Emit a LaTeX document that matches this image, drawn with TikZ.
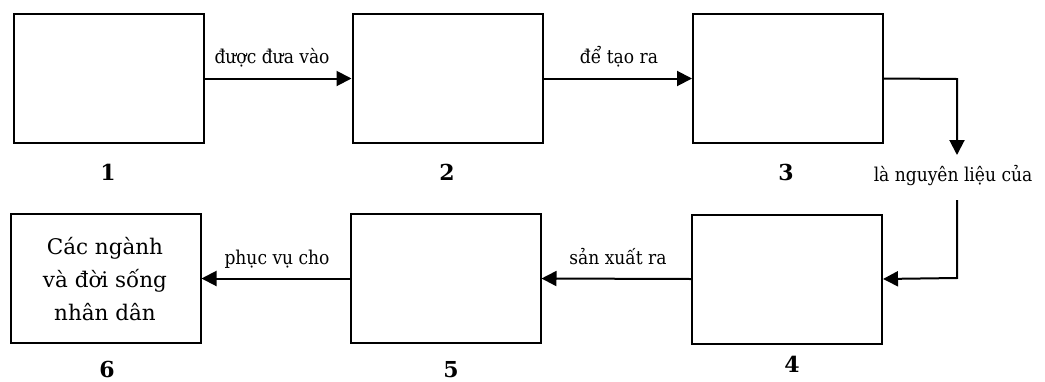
\documentclass[tikz,border=0pt]{standalone}
\usepackage{fontspec}
\setmainfont{DejaVu Serif}
\newfontfamily\condserif{DejaVu Serif Condensed}
\usetikzlibrary{arrows.meta}
\begin{document}
\begin{tikzpicture}[x=1pt,y=-1pt,
  box/.style={draw,line width=2pt,minimum width=190pt,minimum height=129pt,inner sep=0pt},
  num/.style={font=\fontsize{22}{24}\selectfont\bfseries,inner sep=0pt,anchor=base},
  lab/.style={font=\condserif\fontsize{19}{21}\selectfont,inner sep=0pt,anchor=base},
  link/.style={line width=2pt},
  arr/.style={link,-{Triangle[length=15pt,width=15pt]}}]
\useasboundingbox (0,0) rectangle (1045,381);
% top row
\node[box] (b1) at (108.5,78.5) {};
\node[box] (b2) at (447.5,78.5) {};
\node[box] (b3) at (788,78.5) {};
% bottom row
\node[box] (b6) at (105.5,278.5) {};
\node[box] (b5) at (445.5,278.5) {};
\node[box] (b4) at (787,279) {};
\node[align=center,font=\fontsize{21.5}{33}\selectfont,inner sep=0pt] (t6) at (105,279) {Các ngành\\và đời sống\\nhân dân};
% numbers
\node[num] (n1) at (108,180) {1};
\node[num] (n2) at (447,180) {2};
\node[num] (n3) at (786,180) {3};
\node[num] (n4) at (792,372) {4};
\node[num] (n5) at (451,377) {5};
\node[num] (n6) at (107,377) {6};
% connectors
\draw[arr] (b1.east) -- (b2.west);
\node[lab] (l1) at (272,63) {được đưa vào};
\draw[arr] (b2.east) -- (b3.west);
\node[lab] (l2) at (619,63) {để tạo ra};
\coordinate (c1) at (957,79);
\coordinate (c2) at (957,155);
\coordinate (c3) at (957,200);
\coordinate (c4) at (957,278);
\node[lab] (l3) at (953,181) {là nguyên liệu của};
\draw[arr] (b3.east) -- (c1) -- (c2);
\draw[arr] (c3) -- (c4) -- (b4.east);
\draw[arr] (b4.west) -- (b5.east);
\node[lab] (l4) at (618,264) {sản xuất ra};
\draw[arr] (b5.west) -- (b6.east);
\node[lab] (l5) at (277,264) {phục vụ cho};
\end{tikzpicture}
\end{document}
